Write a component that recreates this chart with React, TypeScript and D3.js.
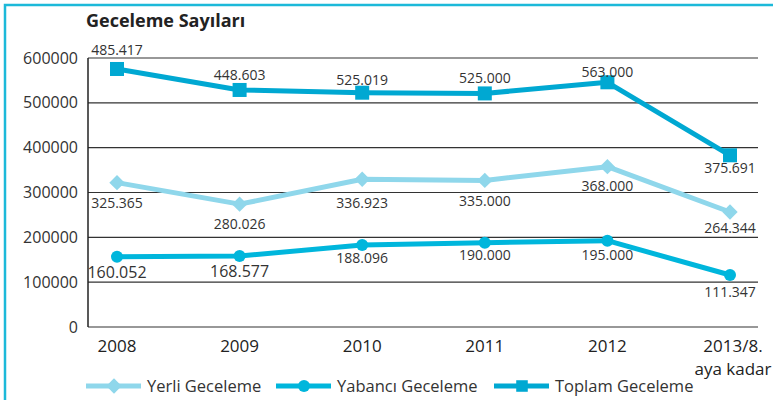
import React, { useEffect, useRef } from 'react';
import * as d3 from 'd3';

const YEARS = ['2008', '2009', '2010', '2011', '2012', '2013/8.'];
const TOPLAM = [575500, 528700, 522600, 521000, 545800, 383000];
const YERLI = [322000, 274000, 329500, 327000, 357600, 256500];
const YABANCI = [156800, 158400, 183000, 188000, 192500, 116000];
const TOPLAM_LABELS = ['485.417', '448.603', '525.019', '525.000', '563.000', '375.691'];
const YERLI_LABELS = ['325.365', '280.026', '336.923', '335.000', '368.000', '264.344'];
const YABANCI_LABELS = ['160.052', '168.577', '188.096', '190.000', '195.000', '111.347'];
const Y_TICKS = [0, 100000, 200000, 300000, 400000, 500000, 600000];

const W = 773;
const H = 400;
const FONT = '"Open Sans", sans-serif';
const C_TOPLAM = '#00a8d2';
const C_YABANCI = '#00b6dc';
const C_YERLI = '#8fd7eb';
const C_BORDER = '#1cb9d9';

// label offsets from the point, in px
const TOPLAM_DY = [-14, -10, -8, -10, -5, 18];
const YERLI_DY = [25, 25, 29, 26, 24, 21];
const YABANCI_DY = [21, 21, 18, 17, 19, 22];

const App = () => {
  const svgRef = useRef<SVGSVGElement>(null);

  useEffect(() => {
    const svg = d3.select(svgRef.current);
    svg.selectAll('*').remove();

    const left = 88, right = 758, top = 58, bottom = 327;

    const x = d3.scalePoint<string>()
      .domain(YEARS)
      .range([117, 730]);
    const y = d3.scaleLinear()
      .domain([0, 600000])
      .range([bottom, top]);

    // frame
    svg.append('rect')
      .attr('x', 5).attr('y', 5)
      .attr('width', W + 10).attr('height', H + 10)
      .attr('fill', 'none')
      .attr('stroke', C_BORDER)
      .attr('stroke-width', 2.5);

    svg.append('text')
      .attr('x', 86).attr('y', 27)
      .style('font-family', FONT)
      .style('font-size', '18px')
      .style('font-weight', '700')
      .style('fill', '#222')
      .text('Geceleme Sayıları');

    // grid
    svg.append('g').selectAll('line')
      .data(Y_TICKS)
      .enter().append('line')
      .attr('x1', left).attr('x2', right)
      .attr('y1', d => y(d)).attr('y2', d => y(d))
      .attr('stroke', '#333')
      .attr('stroke-width', 1.2);

    svg.append('line')
      .attr('x1', left).attr('x2', left)
      .attr('y1', top).attr('y2', bottom)
      .attr('stroke', '#222')
      .attr('stroke-width', 1.5);

    svg.append('g').selectAll('text')
      .data(Y_TICKS)
      .enter().append('text')
      .attr('x', 78)
      .attr('y', d => y(d))
      .attr('dy', '0.35em')
      .attr('text-anchor', 'end')
      .style('font-family', FONT)
      .style('font-size', '16px')
      .style('fill', '#333')
      .text(d => String(d));

    const xl = svg.append('g').selectAll('text')
      .data(YEARS)
      .enter().append('text')
      .attr('x', d => x(d)!)
      .attr('y', 352)
      .attr('text-anchor', 'middle')
      .style('font-family', FONT)
      .style('font-size', '17px')
      .style('fill', '#222')
      .text(d => d);
    xl.filter(d => d === '2013/8.').attr('x', d => x(d)! + 3);
    svg.append('text')
      .attr('x', x('2013/8.')! + 3)
      .attr('y', 375)
      .attr('text-anchor', 'middle')
      .style('font-family', FONT)
      .style('font-size', '17px')
      .style('fill', '#222')
      .text('aya kadar');

    const line = d3.line<number>()
      .x((_, i) => x(YEARS[i])!)
      .y(d => y(d));

    const diamond = d3.symbol().type(d3.symbolDiamond2).size(150);
    const square = d3.symbol().type(d3.symbolSquare2).size(170);

    const series = [
      { values: YERLI, color: C_YERLI, marker: 'diamond' },
      { values: YABANCI, color: C_YABANCI, marker: 'circle' },
      { values: TOPLAM, color: C_TOPLAM, marker: 'square' },
    ];

    series.forEach(s => {
      svg.append('path')
        .datum(s.values)
        .attr('d', line)
        .attr('fill', 'none')
        .attr('stroke', s.color)
        .attr('stroke-width', 5)
        .attr('stroke-linejoin', 'round');

      const g = svg.append('g');
      s.values.forEach((v, i) => {
        const cx = x(YEARS[i])!;
        const cy = y(v);
        if (s.marker === 'circle') {
          g.append('circle').attr('cx', cx).attr('cy', cy).attr('r', 6).attr('fill', s.color);
        } else if (s.marker === 'diamond') {
          g.append('path').attr('d', diamond()).attr('transform', `translate(${cx},${cy})`).attr('fill', s.color);
        } else {
          g.append('rect').attr('x', cx - 7).attr('y', cy - 7).attr('width', 14).attr('height', 14).attr('fill', s.color);
        }
      });
    });

    const label = (vals: number[], texts: string[], dy: number[], size: (i: number) => number) => {
      svg.append('g').selectAll('text')
        .data(texts)
        .enter().append('text')
        .attr('x', (_, i) => x(YEARS[i])!)
        .attr('y', (_, i) => y(vals[i]) + dy[i])
        .attr('text-anchor', 'middle')
        .style('font-family', FONT)
        .style('font-size', (_, i) => `${size(i)}px`)
        .style('fill', '#333')
        .text(d => d);
    };

    label(TOPLAM, TOPLAM_LABELS, TOPLAM_DY, () => 14);
    label(YERLI, YERLI_LABELS, YERLI_DY, () => 14);
    label(YABANCI, YABANCI_LABELS, YABANCI_DY, i => (i < 2 ? 16 : 14));

    // legend
    const leg = [
      { name: 'Yerli Geceleme', color: C_YERLI, marker: 'diamond', x0: 86 },
      { name: 'Yabancı Geceleme', color: C_YABANCI, marker: 'circle', x0: 276 },
      { name: 'Toplam Geceleme', color: C_TOPLAM, marker: 'square', x0: 494 },
    ];
    const ly = 386;
    leg.forEach(l => {
      svg.append('line')
        .attr('x1', l.x0).attr('x2', l.x0 + 55)
        .attr('y1', ly).attr('y2', ly)
        .attr('stroke', l.color).attr('stroke-width', 5);
      const mx = l.x0 + 28;
      if (l.marker === 'circle') {
        svg.append('circle').attr('cx', mx).attr('cy', ly).attr('r', 6).attr('fill', l.color);
      } else if (l.marker === 'diamond') {
        svg.append('path').attr('d', diamond()).attr('transform', `translate(${mx},${ly})`).attr('fill', l.color);
      } else {
        svg.append('path').attr('d', square()).attr('transform', `translate(${mx},${ly})`).attr('fill', l.color);
      }
      svg.append('text')
        .attr('x', l.x0 + 61).attr('y', ly)
        .attr('dy', '0.35em')
        .style('font-family', FONT)
        .style('font-size', '16.5px')
        .style('fill', '#333')
        .text(l.name);
    });
  }, []);

  return (
    <svg
      ref={svgRef}
      width={W}
      height={H}
      style={{ position: 'absolute', left: 0, top: 0, background: '#fff', display: 'block' }}
    />
  );
};

export default App;
